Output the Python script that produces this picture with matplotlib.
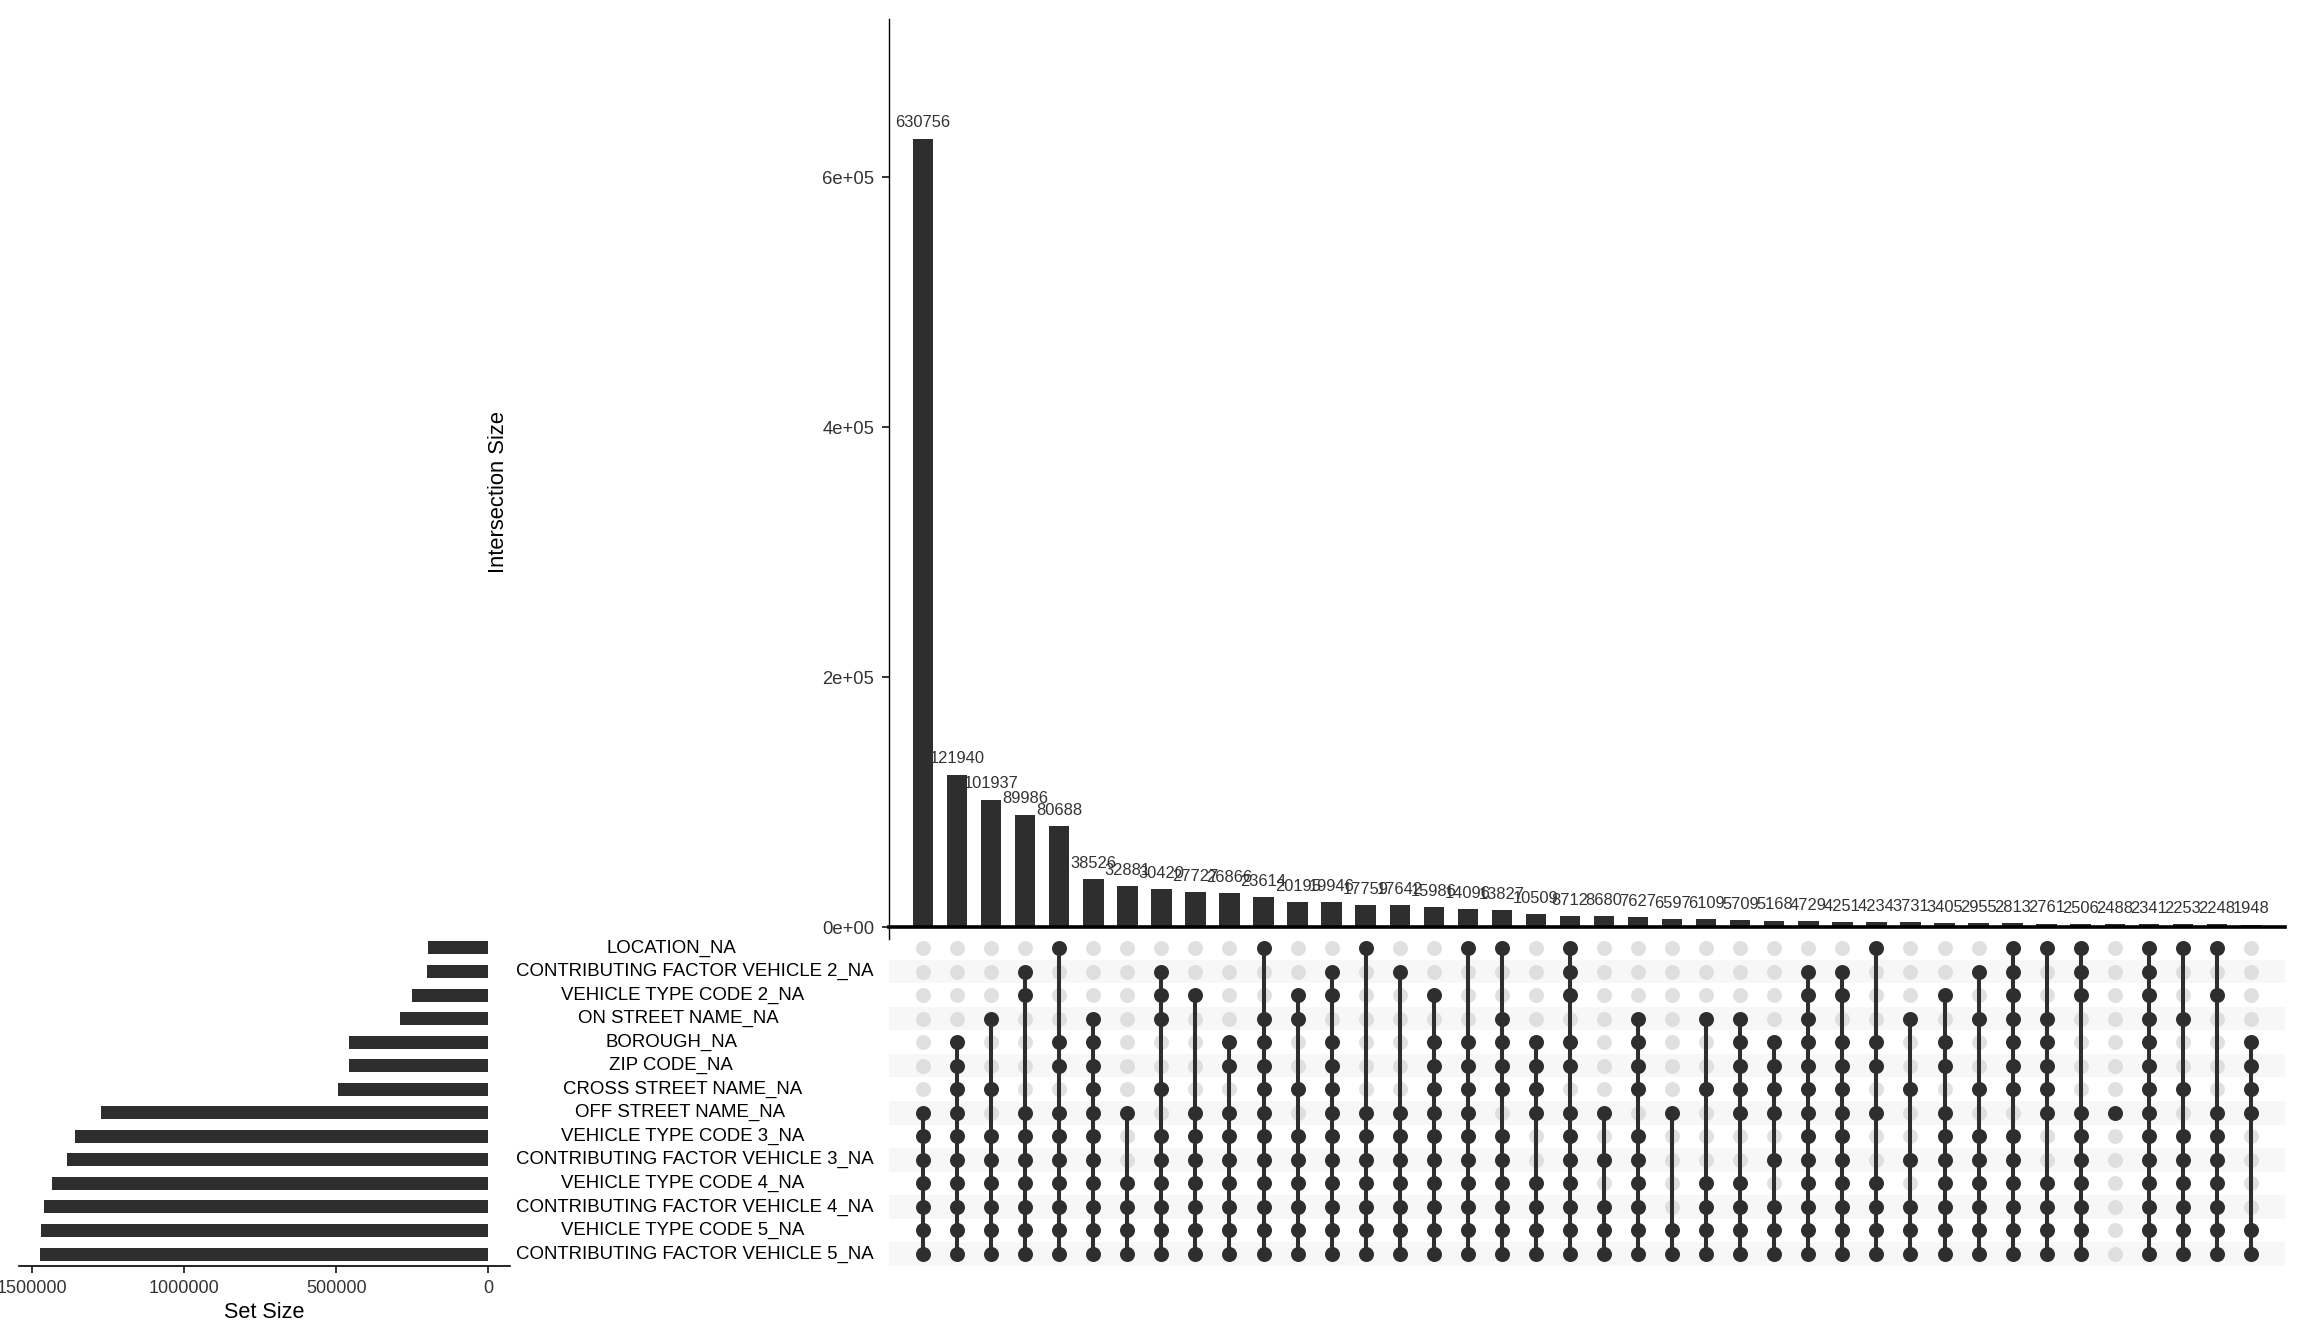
import numpy as np
import matplotlib
matplotlib.use('Agg')
import matplotlib.pyplot as plt
import matplotlib.transforms as mtransforms
from matplotlib.ticker import FuncFormatter, FixedLocator

plt.rcParams['font.family'] = ['Liberation Sans', 'DejaVu Sans']

# --- data ---
set_names = ['LOCATION_NA', 'CONTRIBUTING FACTOR VEHICLE 2_NA', 'VEHICLE TYPE CODE 2_NA',
             'ON STREET NAME_NA', 'BOROUGH_NA', 'ZIP CODE_NA', 'CROSS STREET NAME_NA',
             'OFF STREET NAME_NA', 'VEHICLE TYPE CODE 3_NA', 'CONTRIBUTING FACTOR VEHICLE 3_NA',
             'VEHICLE TYPE CODE 4_NA', 'CONTRIBUTING FACTOR VEHICLE 4_NA',
             'VEHICLE TYPE CODE 5_NA', 'CONTRIBUTING FACTOR VEHICLE 5_NA']
set_sizes = [198000, 202000, 250000, 289000, 457000, 457000, 493000,
             1275000, 1360000, 1386000, 1435000, 1460000, 1471000, 1475000]

inter_sizes = [630756, 121940, 101937, 89986, 80688, 38526, 32881, 30420, 27727, 26866,
               23614, 20195, 19946, 17759, 17642, 15986, 14096, 13827, 10509, 8712,
               8680, 7627, 6597, 6109, 5709, 5168, 4729, 4251, 4234, 3731,
               3405, 2955, 2813, 2761, 2506, 2488, 2341, 2253, 2248, 1948]

# row indices (0 = top set) that belong to each intersection
members = [
    [7, 8, 9, 10, 11, 12, 13],
    [4, 5, 6, 7, 8, 9, 10, 11, 12, 13],
    [3, 6, 8, 9, 10, 11, 12, 13],
    [1, 2, 7, 8, 9, 10, 11, 12, 13],
    [0, 4, 5, 7, 8, 9, 10, 11, 12, 13],
    [3, 4, 5, 6, 7, 8, 9, 10, 11, 12, 13],
    [7, 10, 11, 12, 13],
    [1, 2, 3, 6, 8, 9, 10, 11, 12, 13],
    [2, 7, 8, 9, 10, 11, 12, 13],
    [4, 5, 7, 8, 9, 10, 11, 12, 13],
    [0, 3, 4, 5, 6, 7, 8, 9, 10, 11, 12, 13],
    [2, 3, 6, 8, 9, 10, 11, 12, 13],
    [1, 2, 4, 5, 6, 7, 8, 9, 10, 11, 12, 13],
    [0, 7, 8, 9, 10, 11, 12, 13],
    [1, 7, 8, 9, 10, 11, 12, 13],
    [2, 4, 5, 6, 7, 8, 9, 10, 11, 12, 13],
    [0, 4, 5, 6, 7, 8, 9, 10, 11, 12, 13],
    [0, 3, 4, 5, 6, 8, 9, 10, 11, 12, 13],
    [4, 5, 6, 7, 10, 11, 12, 13],
    [0, 1, 2, 4, 5, 7, 8, 9, 10, 11, 12, 13],
    [7, 9, 11, 12, 13],
    [3, 4, 5, 6, 8, 9, 10, 11, 12, 13],
    [7, 12, 13],
    [3, 6, 10, 11, 12, 13],
    [3, 4, 5, 6, 7, 10, 11, 12, 13],
    [4, 5, 6, 7, 9, 11, 12, 13],
    [1, 2, 3, 4, 5, 6, 7, 8, 9, 10, 11, 12, 13],
    [1, 2, 4, 5, 6, 7, 8, 9, 10, 11, 12, 13],
    [0, 4, 5, 7, 10, 11, 12, 13],
    [3, 6, 9, 11, 12, 13],
    [2, 4, 5, 7, 8, 9, 10, 11, 12, 13],
    [1, 3, 6, 8, 9, 10, 11, 12, 13],
    [0, 1, 2, 3, 4, 5, 6, 8, 9, 10, 11, 12, 13],
    [0, 3, 4, 5, 6, 7, 10, 11, 12, 13],
    [0, 1, 2, 7, 8, 9, 10, 11, 12, 13],
    [7],
    [0, 1, 2, 3, 4, 5, 6, 7, 8, 9, 10, 11, 12, 13],
    [0, 3, 6, 8, 9, 10, 11, 12, 13],
    [0, 2, 7, 8, 9, 10, 11, 12, 13],
    [4, 5, 6, 7, 12, 13],
]

bar_ticks = [0, 200000, 400000, 600000]
set_ticks = [0, 500000, 1000000, 1500000]

DARK = '#2e2e2e'
W, H = 2304, 1344


def frac(left, top, right, bottom):
    # pixel box (from top-left) -> figure fraction rect
    return [left / W, 1 - bottom / H, (right - left) / W, (bottom - top) / H]


fig = plt.figure(figsize=(W / 100, H / 100), dpi=100)
n_sets = len(set_names)
n_int = len(inter_sizes)
xs = np.arange(1, n_int + 1)

# intersection bars
ax_bar = fig.add_axes(frac(889, 19, 2285, 939))
ax_bar.bar(xs, inter_sizes, width=0.6, color=DARK)
for x, v in zip(xs, inter_sizes):
    ax_bar.annotate(str(v), (x, v), xytext=(0, 8), textcoords='offset points',
                    ha='center', va='baseline', fontsize=11.9, color='#333333')
ax_bar.axhline(0, color='black', lw=2.6, clip_on=False)
ax_bar.set_xlim(0, n_int + 1)
ax_bar.set_ylim(-9600, 726400)
ax_bar.yaxis.set_major_locator(FixedLocator(bar_ticks))
ax_bar.yaxis.set_major_formatter(FuncFormatter(lambda v, p: f'{v:.0e}'))
ax_bar.set_xticks([])
for s in ['top', 'right', 'bottom']:
    ax_bar.spines[s].set_visible(False)
ax_bar.spines['left'].set_linewidth(1.0)
ax_bar.tick_params(axis='y', length=5, width=1.4, pad=5.5, labelsize=13.3,
                   color='#333333', labelcolor='#333333')

# matrix
ax_mat = fig.add_axes(frac(889, 936.2, 2285, 1265.8))
ax_mat.set_xlim(0, n_int + 1)
ax_mat.set_ylim(n_sets - 0.5, -0.5)
for r in range(1, n_sets, 2):
    ax_mat.axhspan(r - 0.5, r + 0.5, color='#f7f7f7', lw=0, zorder=0)
gx, gy = np.meshgrid(xs, np.arange(n_sets))
ax_mat.scatter(gx.ravel(), gy.ravel(), s=116, color='#d4d4d4', alpha=0.7, lw=0, zorder=1)
for x, rows in zip(xs, members):
    if len(rows) > 1:
        ax_mat.plot([x, x], [min(rows), max(rows)], color=DARK, lw=2.9,
                    solid_capstyle='butt', zorder=2)
    ax_mat.scatter([x] * len(rows), rows, s=116, color=DARK, lw=0, zorder=3)
ax_mat.axis('off')

# set size bars
ax_set = fig.add_axes(frac(19, 936.2, 510, 1265.8))
ax_set.barh(np.arange(n_sets), set_sizes, height=0.55, color=DARK)
ax_set.set_xlim(1543750, -71400)
ax_set.set_ylim(n_sets - 0.5, -0.5)
ax_set.xaxis.set_major_locator(FixedLocator(set_ticks))
ax_set.xaxis.set_major_formatter(FuncFormatter(lambda v, p: f'{int(v)}'))
ax_set.set_yticks([])
for s in ['top', 'right', 'left']:
    ax_set.spines[s].set_visible(False)
ax_set.spines['bottom'].set_linewidth(1.2)
ax_set.tick_params(axis='x', length=5, width=1.4, pad=5, labelsize=13,
                   color='#333333', labelcolor='#333333')

# set labels
trans = mtransforms.blended_transform_factory(fig.transFigure, ax_mat.transData)
labels = [fig.text(0.3, i, name, transform=trans, ha='left', va='center',
                   fontsize=13.4, color='black') for i, name in enumerate(set_names)]
fig.canvas.draw()
renderer = fig.canvas.get_renderer()
for t in labels:
    w = t.get_window_extent(renderer).width
    t.set_x((658.7 - 0.4 * w) / W)

fig.text(264 / W, 1 - 1313 / H, 'Set Size', ha='center', va='center', fontsize=15.6)
fig.text(499 / W, 1 - 492 / H, 'Intersection Size', ha='center', va='center',
         rotation=90, fontsize=15.8)

fig.savefig('out.png', dpi=100)
